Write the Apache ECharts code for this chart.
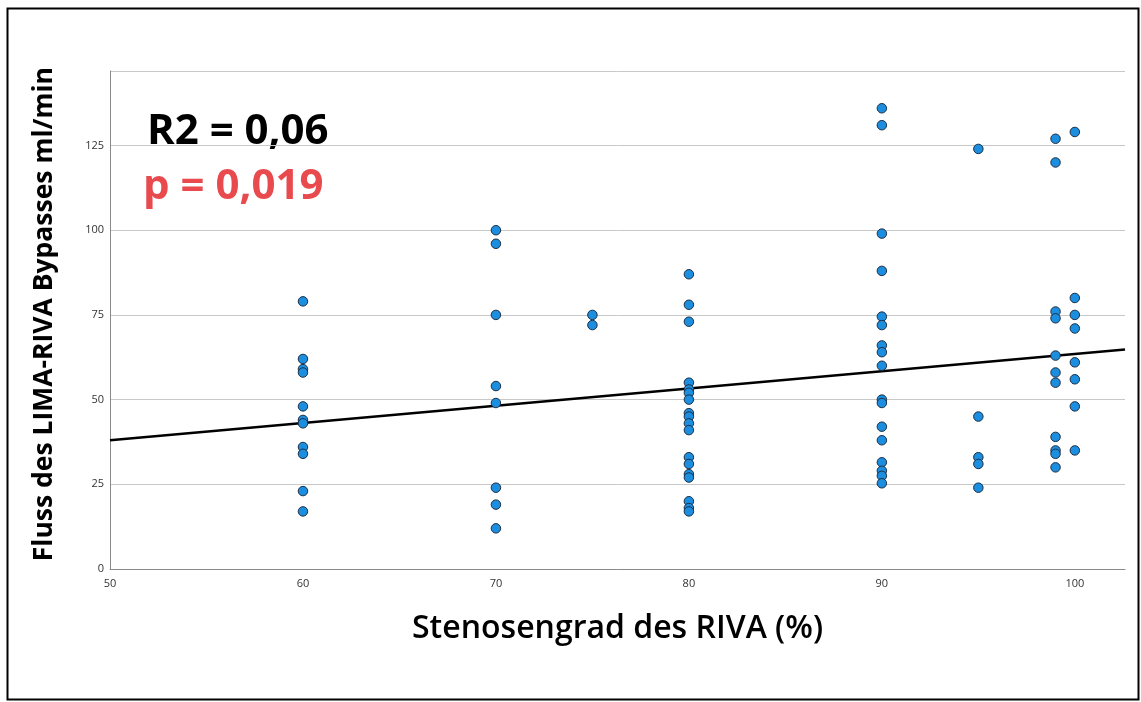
<!DOCTYPE html>
<html>
<head>
<meta charset="utf-8">
<script src="https://cdn.jsdelivr.net/npm/echarts@6/dist/echarts.min.js"></script>
<style>
html,body{margin:0;padding:0;background:#fff;}
#c{width:1141px;height:702px;}
</style>
</head>
<body>
<div id="c"></div>
<script>
// Stenosis grade (%) groups and the flow values (ml/min)
var x60 = [79, 62, 59, 58, 48, 44, 43, 36, 34, 23, 17];
var x70 = [100, 96, 75, 54, 49, 24, 19, 12];
var x75 = [75, 72];
var x80 = [87, 78, 73, 55, 53, 52, 50, 46, 45, 43, 41, 33, 31, 28, 27, 20, 18, 17];
var x90 = [136, 131, 99, 88, 74.5, 72, 66, 64, 60, 50, 49, 42, 38, 31.5, 29, 27.5, 25.3];
var x95 = [124, 45, 33, 31, 24];
var x99 = [127, 120, 76, 74, 63, 58, 55, 39, 35, 34, 30];
var x100 = [129, 80, 75, 71, 61, 56, 48, 35];
var groups = [[60, x60], [70, x70], [75, x75], [80, x80], [90, x90], [95, x95], [99, x99], [100, x100]];
// Fit line end points
var fitLine = [[50, 38.0], [102.6, 64.8]];
var xTicks = [50, 60, 70, 80, 90, 100];
var yTicks = [0, 25, 50, 75, 100, 125];

var points = [];
groups.forEach(function (g) { g[1].forEach(function (v) { points.push([g[0], v]); }); });

var chart = echarts.init(document.getElementById('c'), null, {renderer: 'canvas'});
chart.setOption({
  animation: false,
  backgroundColor: '#fff',
  grid: {left: 110, right: 16, top: 71, bottom: 133, containLabel: false},
  xAxis: {
    type: 'value', min: 50, max: 102.6, interval: 10,
    axisLine: {lineStyle: {color: '#8a8a8a', width: 1}},
    axisTick: {show: false},
    splitLine: {show: false},
    axisLabel: {showMaxLabel: false, color: '#333', fontSize: 11, fontFamily: 'Open Sans', margin: 9}
  },
  yAxis: {
    type: 'value', min: 0, max: 147, interval: 25,
    axisLine: {show: true, lineStyle: {color: '#8a8a8a', width: 1}},
    axisTick: {show: false},
    splitLine: {show: true, lineStyle: {color: '#c8c8c8', width: 1}},
    axisLabel: {showMaxLabel: false, color: '#333', fontSize: 11, fontFamily: 'Open Sans', margin: 6}
  },
  series: [
    {
      type: 'line', data: fitLine, symbol: 'none', z: 3,
      lineStyle: {color: '#000', width: 2.5}
    },
    {
      type: 'scatter', data: points, symbolSize: 9.5, z: 4,
      itemStyle: {color: '#1b8ee0', borderColor: '#1c2f45', borderWidth: 1, opacity: 1}
    }
  ],
  graphic: [
    {type: 'rect', left: 5, top: 6, shape: {width: 1131, height: 691},
     style: {fill: 'none', stroke: '#000', lineWidth: 2}, z: 10},
    {type: 'text', left: 147, top: 111,
     style: {text: 'R2 = 0,06', fill: '#000', font: 'bold 42px "Open Sans"'}},
    {type: 'text', left: 143, top: 166,
     style: {text: 'p = 0,019', fill: '#e84a4e', font: 'bold 42px "Open Sans"'}},
    {type: 'text', left: 31, top: 67, rotation: Math.PI / 2, originX: 0, originY: 0,
     style: {text: 'Fluss des LIMA-RIVA Bypasses ml/min', fill: '#000', font: 'bold 26.5px "Open Sans"'}},
    {type: 'text', left: 412, top: 613,
     style: {text: 'Stenosengrad des RIVA (%)', fill: '#000', font: '600 32px "Open Sans"'}}
  ]
});
</script>
</body>
</html>
